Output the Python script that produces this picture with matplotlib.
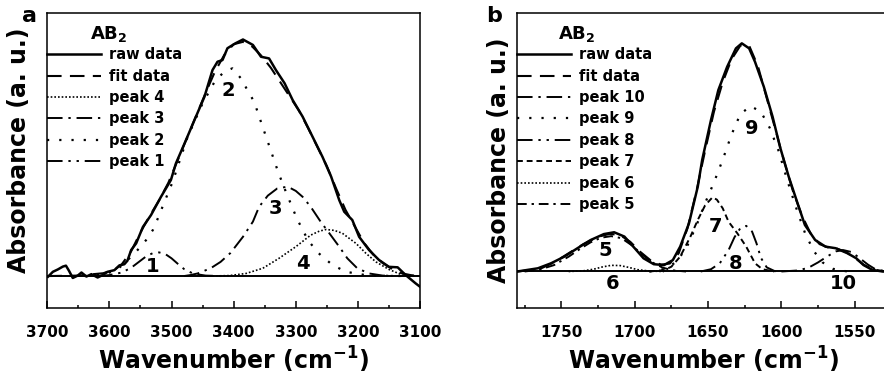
import numpy as np
import matplotlib
matplotlib.use("Agg")
import matplotlib.pyplot as plt
from matplotlib.ticker import MultipleLocator

plt.rcParams["font.family"] = ["DejaVu Sans"]
plt.rcParams["font.weight"] = "bold"
plt.rcParams["axes.labelweight"] = "bold"
plt.rcParams["mathtext.fontset"] = "dejavusans"
plt.rcParams["mathtext.default"] = "bf"

# ---- panel a : 3700-3100 cm-1 region ----
raw_a_x = [3699, 3691, 3683, 3675, 3670, 3665, 3659, 3651, 3645, 3637, 3629, 3619, 3611,
           3603, 3592, 3584, 3576, 3571, 3565, 3557, 3546, 3533, 3517, 3501, 3493, 3479,
           3463, 3447, 3434, 3426, 3418, 3410, 3397, 3385, 3369, 3356, 3343, 3332, 3318,
           3305, 3289, 3273, 3257, 3243, 3230, 3222, 3209, 3198, 3182, 3166, 3150, 3136,
           3123, 3107, 3100]
raw_a_y = [-0.003, 0.018, 0.028, 0.04, 0.044, 0.022, -0.008, 0.002, 0.015, -0.002, 0.008,
           -0.006, 0.004, 0.018, 0.025, 0.045, 0.05, 0.065, 0.11, 0.138, 0.208, 0.258,
           0.335, 0.406, 0.476, 0.561, 0.66, 0.758, 0.871, 0.906, 0.913, 0.963, 0.984,
           1.0, 0.977, 0.927, 0.92, 0.871, 0.815, 0.744, 0.674, 0.589, 0.504, 0.42,
           0.321, 0.272, 0.237, 0.166, 0.11, 0.068, 0.039, 0.037, 0.004, -0.031, -0.045]
fit_a_x = [3700, 3650, 3610, 3590, 3580, 3565, 3550, 3535, 3520, 3505, 3490, 3475, 3460,
           3445, 3430, 3415, 3400, 3385, 3370, 3355, 3340, 3325, 3310, 3295, 3280, 3265,
           3250, 3235, 3220, 3205, 3190, 3175, 3160, 3145, 3130, 3115, 3100]
fit_a_y = [0.0, 0.002, 0.012, 0.03, 0.05, 0.105, 0.185, 0.255, 0.32, 0.395, 0.49, 0.585,
           0.68, 0.775, 0.865, 0.935, 0.98, 0.99, 0.97, 0.93, 0.88, 0.82, 0.76, 0.70,
           0.625, 0.545, 0.465, 0.37, 0.28, 0.21, 0.14, 0.09, 0.055, 0.03, 0.012, 0.004, 0.0]
p1_x = [3620, 3600, 3580, 3565, 3550, 3540, 3530, 3520, 3510, 3500, 3490, 3480, 3465, 3445, 3420]
p1_y = [0.0, 0.004, 0.015, 0.035, 0.065, 0.085, 0.097, 0.1, 0.093, 0.075, 0.052, 0.03, 0.01, 0.002, 0.0]
p2_x = [3640, 3610, 3590, 3576, 3557, 3541, 3530, 3522, 3509, 3498, 3474, 3450, 3431, 3415,
        3402, 3388, 3377, 3367, 3354, 3341, 3328, 3315, 3298, 3280, 3263, 3241, 3219, 3190,
        3160, 3120]
p2_y = [0.0, 0.008, 0.022, 0.054, 0.103, 0.152, 0.195, 0.244, 0.329, 0.4, 0.589, 0.73, 0.82,
        0.865, 0.878, 0.835, 0.782, 0.737, 0.636, 0.537, 0.437, 0.35, 0.242, 0.15, 0.096,
        0.047, 0.018, 0.005, 0.001, 0.0]
p3_x = [3480, 3470, 3458, 3437, 3421, 3405, 3385, 3369, 3359, 3345, 3330, 3313, 3300, 3289,
        3276, 3260, 3246, 3230, 3217, 3201, 3182, 3160, 3130]
p3_y = [0.0, 0.004, 0.011, 0.033, 0.06, 0.098, 0.166, 0.23, 0.293, 0.34, 0.37, 0.378, 0.36,
        0.335, 0.293, 0.23, 0.181, 0.124, 0.075, 0.033, 0.011, 0.002, 0.0]
p4_x = [3440, 3407, 3380, 3353, 3327, 3300, 3276, 3262, 3251, 3238, 3225, 3203, 3187, 3171,
        3150, 3128, 3100]
p4_y = [0.0, 0.002, 0.011, 0.033, 0.075, 0.124, 0.173, 0.19, 0.197, 0.193, 0.181, 0.138,
        0.096, 0.06, 0.028, 0.004, 0.0]
labels_a = ["1", "2", "3", "4"]
labels_a_x = [3530, 3409, 3332, 3289]
labels_a_y = [0.04, 0.786, 0.286, 0.054]

# ---- panel b : 1780-1526 cm-1 region ----
raw_b_x = [1780, 1766, 1757, 1748, 1739, 1730, 1721, 1714, 1707, 1700, 1694, 1687, 1680,
           1674, 1669, 1663, 1657, 1654, 1648, 1643, 1637, 1631, 1627, 1622, 1618, 1612,
           1606, 1601, 1595, 1589, 1584, 1577, 1570, 1563, 1555, 1549, 1544, 1538, 1531, 1526]
raw_b_y = [0.0, 0.014, 0.036, 0.065, 0.102, 0.138, 0.164, 0.172, 0.153, 0.102, 0.058, 0.032,
           0.028, 0.05, 0.109, 0.211, 0.372, 0.489, 0.664, 0.795, 0.897, 0.978, 1.0, 0.978,
           0.919, 0.81, 0.678, 0.547, 0.415, 0.299, 0.204, 0.138, 0.109, 0.102, 0.08, 0.058,
           0.028, 0.007, 0.0, 0.0]
fit_b_x = [1780, 1765, 1755, 1745, 1735, 1725, 1717, 1710, 1703, 1696, 1689, 1682, 1676,
           1670, 1664, 1658, 1652, 1646, 1640, 1634, 1628, 1622, 1616, 1610, 1604, 1598,
           1592, 1586, 1580, 1574, 1568, 1562, 1556, 1550, 1544, 1538, 1532, 1526]
fit_b_y = [0.0, 0.01, 0.04, 0.08, 0.12, 0.152, 0.165, 0.16, 0.13, 0.085, 0.048, 0.03, 0.035,
           0.08, 0.19, 0.35, 0.53, 0.7, 0.83, 0.93, 0.99, 0.99, 0.9, 0.76, 0.62, 0.48, 0.35,
           0.245, 0.165, 0.12, 0.105, 0.1, 0.085, 0.06, 0.03, 0.01, 0.002, 0.0]
p5_x = [1775, 1765, 1755, 1745, 1737, 1730, 1723, 1716, 1709, 1702, 1695, 1688, 1681, 1674, 1665]
p5_y = [0.0, 0.008, 0.028, 0.065, 0.1, 0.128, 0.148, 0.155, 0.146, 0.115, 0.075, 0.04, 0.017, 0.005, 0.0]
p6_x = [1745, 1735, 1728, 1722, 1716, 1710, 1704, 1698, 1690, 1680]
p6_y = [0.0, 0.003, 0.01, 0.02, 0.027, 0.026, 0.018, 0.008, 0.002, 0.0]
p7_x = [1690, 1680, 1675, 1669, 1662, 1657, 1652, 1647, 1644, 1640, 1636, 1630, 1624, 1618, 1613, 1605]
p7_y = [0.0, 0.006, 0.021, 0.065, 0.153, 0.226, 0.29, 0.325, 0.315, 0.277, 0.218, 0.167,
        0.109, 0.036, 0.01, 0.0]
p8_x = [1655, 1648, 1642, 1636, 1632, 1628, 1624, 1620, 1617, 1614, 1610, 1604]
p8_y = [0.0, 0.01, 0.036, 0.094, 0.15, 0.19, 0.2, 0.175, 0.124, 0.06, 0.018, 0.0]
p9_x = [1690, 1680, 1672, 1665, 1658, 1652, 1646, 1640, 1634, 1628, 1621, 1614, 1608, 1602,
        1596, 1590, 1584, 1578, 1572, 1565, 1555]
p9_y = [0.0, 0.01, 0.04, 0.1, 0.2, 0.3, 0.39, 0.49, 0.6, 0.69, 0.725, 0.7, 0.63, 0.53, 0.4,
        0.28, 0.17, 0.09, 0.04, 0.012, 0.0]
p10_x = [1600, 1590, 1582, 1575, 1569, 1563, 1558, 1552, 1547, 1541, 1536, 1528]
p10_y = [0.0, 0.004, 0.015, 0.04, 0.065, 0.088, 0.094, 0.085, 0.06, 0.03, 0.01, 0.0]
labels_b = ["5", "6", "7", "8", "9", "10"]
labels_b_x = [1720, 1715, 1645, 1631, 1620, 1558]
labels_b_y = [0.094, -0.052, 0.198, 0.036, 0.627, -0.052]

# line styles
solid = dict(ls="-", lw=1.8)
fit_ls = dict(ls=(0, (7, 4)), lw=1.5)
dense_dot = dict(ls=(0, (1, 1.2)), lw=1.2)
sparse_dot = dict(ls=(0, (1, 4.5)), lw=1.6)
dash_dot = dict(ls=(0, (8, 3, 1.2, 3)), lw=1.4)
dash_dot_dot = dict(ls=(0, (8, 3, 1.2, 3, 1.2, 3)), lw=1.4)
short_dash = dict(ls=(0, (3, 2)), lw=1.4)
short_dash_dot = dict(ls=(0, (5, 2.5, 1.2, 2.5)), lw=1.4)

W, H = 884, 376
fig = plt.figure(figsize=(W / 100, H / 100), dpi=100)
ax_a = fig.add_axes([47.3 / W, 1 - 308 / H, 372.7 / W, 295 / H])
ax_b = fig.add_axes([517.3 / W, 1 - 308 / H, 372.7 / W, 295 / H])


def style_axes(ax, xlim, ylim, major, minor):
    ax.set_xlim(*xlim)
    ax.set_ylim(*ylim)
    ax.xaxis.set_major_locator(MultipleLocator(major))
    ax.xaxis.set_minor_locator(MultipleLocator(minor))
    ax.tick_params(axis="x", which="major", direction="in", length=5, width=1.1,
                   labelsize=11, pad=12, top=False)
    ax.tick_params(axis="x", which="minor", direction="in", length=2.5, width=1.1, top=False)
    ax.tick_params(axis="y", which="both", left=False, labelleft=False)
    for s in ax.spines.values():
        s.set_linewidth(1.1)
    ax.axhline(0, color="k", lw=1.4, zorder=1)
    ax.set_xlabel("Wavenumber (cm$^{-1}$)", fontsize=17, labelpad=4)
    ax.set_ylabel("Absorbance (a. u.)", fontsize=17)


# panel a
style_axes(ax_a, (3700, 3100), (-0.135, 1.112), 100, 50)
ax_a.plot(raw_a_x, raw_a_y, color="k", label="raw data", **solid)
ax_a.plot(fit_a_x, fit_a_y, color="k", label="fit data", **fit_ls)
ax_a.plot(p4_x, p4_y, color="k", label="peak 4", **dense_dot)
ax_a.plot(p3_x, p3_y, color="k", label="peak 3", **dash_dot)
ax_a.plot(p2_x, p2_y, color="k", label="peak 2", **sparse_dot)
ax_a.plot(p1_x, p1_y, color="k", label="peak 1", **dash_dot_dot)
for t, x, y in zip(labels_a, labels_a_x, labels_a_y):
    ax_a.text(x, y, t, fontsize=14, ha="center", va="center")
ax_a.yaxis.set_label_coords(-0.044, 0.535)

# panel b
style_axes(ax_b, (1780, 1526), (-0.16, 1.133), 50, 25)
ax_b.plot(raw_b_x, raw_b_y, color="k", label="raw data", **solid)
ax_b.plot(fit_b_x, fit_b_y, color="k", label="fit data", **fit_ls)
ax_b.plot(p10_x, p10_y, color="k", label="peak 10", **dash_dot)
ax_b.plot(p9_x, p9_y, color="k", label="peak 9", **sparse_dot)
ax_b.plot(p8_x, p8_y, color="k", label="peak 8", **dash_dot_dot)
ax_b.plot(p7_x, p7_y, color="k", label="peak 7", **short_dash)
ax_b.plot(p6_x, p6_y, color="k", label="peak 6", **dense_dot)
ax_b.plot(p5_x, p5_y, color="k", label="peak 5", **short_dash_dot)
for t, x, y in zip(labels_b, labels_b_x, labels_b_y):
    ax_b.text(x, y, t, fontsize=14, ha="center", va="center")
ax_b.yaxis.set_label_coords(-0.018, 0.5)

for ax in (ax_a, ax_b):
    ax.legend(loc="upper left", bbox_to_anchor=(0, 0.884), frameon=False, fontsize=10.5,
              handlelength=3.7, handletextpad=0.5, labelspacing=0.44,
              borderpad=0, borderaxespad=0)

ax_a.text(42.7 / 372.7, 1 - 21 / 295, "AB$_2$", transform=ax_a.transAxes,
          fontsize=13, ha="left", va="center")
ax_b.text(40.7 / 372.7, 1 - 21 / 295, "AB$_2$", transform=ax_b.transAxes,
          fontsize=13, ha="left", va="center")
fig.text(30 / W, 1 - 16 / H, "a", fontsize=16, ha="center", va="center")
fig.text(494 / W, 1 - 16 / H, "b", fontsize=16, ha="center", va="center")

fig.savefig("out.png", dpi=100)
